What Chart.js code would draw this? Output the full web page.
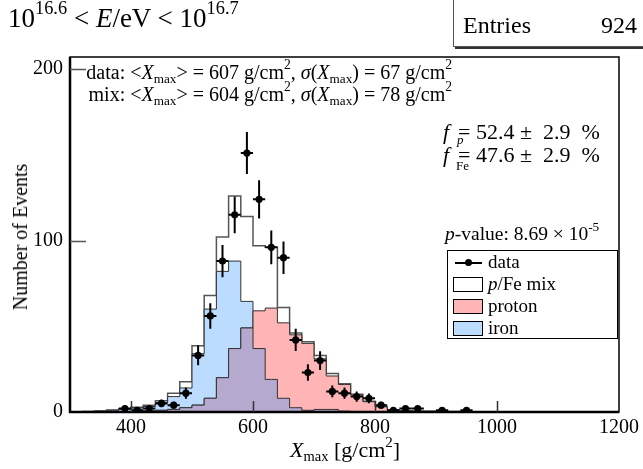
<!DOCTYPE html>
<html><head><meta charset="utf-8">
<script src="https://cdn.jsdelivr.net/npm/chart.js@4/dist/chart.umd.min.js"></script>
<style>
body{margin:0;background:#fff;}
#wrap{position:relative;width:643px;height:469px;overflow:hidden;font-family:'Liberation Serif','Times New Roman',serif;color:#000;background:#fff;}
canvas{position:absolute;left:0;top:0;}
.t{position:absolute;white-space:pre;line-height:1;}
.sup{position:relative;font-size:68%;top:-0.7em;}
.sub{position:relative;font-size:66%;top:0.3em;}
#entries{position:absolute;left:453px;top:-1px;width:200px;height:46px;border:1px solid #555;box-shadow:2px 2px 0 #333;background:#fff;}
#legend{position:absolute;left:447px;top:250px;width:169px;height:87px;border:1px solid #000;background:#fff;}
.sw{position:absolute;left:5px;width:28px;height:13px;border:1px solid #000;}
.lt{position:absolute;left:40px;font-size:19px;line-height:1;white-space:nowrap;}
</style></head><body>
<div id="wrap">
<canvas id="c" width="643" height="469"></canvas>

<div class="t" style="left:8px;top:5px;font-size:27px;">10<span class="sup">16.6</span> &lt; <i>E</i>/eV &lt; 10<span class="sup">16.7</span></div>

<div id="entries">
  <div class="t" style="left:9px;top:13px;font-size:24px;">Entries</div>
  <div class="t" style="left:147px;top:13px;font-size:24px;">924</div>
</div>

<div class="t" style="right:191px;top:62px;font-size:20px;">data: &lt;<i>X</i><span class="sub">max</span>&gt; = 607 g/cm<span class="sup">2</span>, <i>σ</i>(<i>X</i><span class="sub">max</span>) = 67 g/cm<span class="sup">2</span></div>
<div class="t" style="right:191px;top:84px;font-size:20px;">mix: &lt;<i>X</i><span class="sub">max</span>&gt; = 604 g/cm<span class="sup">2</span>, <i>σ</i>(<i>X</i><span class="sub">max</span>) = 78 g/cm<span class="sup">2</span></div>

<div class="t" style="left:443px;top:121px;font-size:22px;"><i>f</i></div>
<div class="t" style="left:457px;top:133px;font-size:13px;"><i>p</i></div>
<div class="t" style="left:458px;top:121px;font-size:22px;">= 52.4 ±  2.9  %</div>
<div class="t" style="left:443px;top:144px;font-size:22px;"><i>f</i></div>
<div class="t" style="left:456px;top:159px;font-size:13px;">Fe</div>
<div class="t" style="left:458px;top:144px;font-size:22px;">= 47.6 ±  2.9  %</div>

<div class="t" style="left:445px;top:224px;font-size:19.5px;"><i>p</i>-value: 8.69 × 10<span class="sup">-5</span></div>

<div id="legend">
  <div style="position:absolute;left:7px;top:11px;width:27px;height:2px;background:#000;"></div>
  <div style="position:absolute;left:17px;top:8px;width:7px;height:7px;border-radius:50%;background:#000;"></div>
  <div class="lt" style="top:1px;">data</div>
  <div class="sw" style="top:26px;background:#fff;"></div>
  <div class="lt" style="top:23px;"><i>p</i>/Fe mix</div>
  <div class="sw" style="top:48px;background:#ffb5b5;"></div>
  <div class="lt" style="top:45px;">proton</div>
  <div class="sw" style="top:70px;background:#bcdcff;"></div>
  <div class="lt" style="top:67px;">iron</div>
</div>

<div class="t" style="left:290px;top:439px;font-size:22px;"><i>X</i><span class="sub">max</span> [g/cm<span class="sup">2</span>]</div>
<div class="t" style="left:20px;top:237px;font-size:20px;transform:translate(-50%,-50%) rotate(-90deg);">Number of Events</div>
</div>

<script>
// ---- data ----
const binCenters = [330,350,370,390,410,430,450,470,490,510,530,550,570,590,610,630,650,670,690,710,730,750,770,790,810,830,850,870,890,910,930,950,970,990,1010,1030];
const dataCounts = [0,0,0,2,1,2,5,4,11,33,56,88,115,151,124,96,90,42,23,30,12,11,9,8,4,1,2,2,0,1,0,1,0,0,0,0];
const mixValues  = [0.3,0.6,1.2,1.9,2.7,3.9,6.6,10.9,17.7,38.6,68,102,126,114,97,96,61,46,41,33,22.5,16.5,10.3,6.2,3.1,1.2,0.7,0.5,0.4,0.3,0.3,0.2,0.2,0.2,0.1,0.1];
const protonValues = [0,0.1,0.2,0.3,0.4,0.7,1,1.5,2.5,4,8,20,37,49,59,60.6,52,45,40,31,21,16,10,6,3,1.2,0.7,0.5,0.4,0.3,0.3,0.2,0.2,0.2,0.1,0.1];
const ironValues   = [0.3,0.5,1.0,1.6,2.3,3.2,5.5,9,14,34,60,82,88,64.5,37,19,8,2.5,1,1.5,1.5,0.5,0.3,0.2,0.1,0,0,0,0,0,0,0,0,0,0,0];
const xTickLabels = [400,600,800,1000,1200];
const yTickLabels = [0,100,200];
const xInnerTicks = [400,600,800,1000];
const yInnerTicks = [100,200];
const binWidth = 20;

const COL_PROTON = '#ffb5b5';
const COL_IRON = '#bcdcff';
const COL_OVERLAP = '#b6a9cf';

function steps(vals){
  const pts=[{x:binCenters[0]-binWidth,y:0}];
  vals.forEach((v,i)=>pts.push({x:binCenters[i],y:v}));
  pts.push({x:binCenters[binCenters.length-1]+binWidth,y:0});
  return pts;
}
const overlapValues = protonValues.map((p,i)=>Math.min(p, ironValues[i]));
const dataPoints = [];
dataCounts.forEach((n,i)=>{ if(n>0) dataPoints.push({x:binCenters[i], y:n}); });

const errorBars = {
  id:'errorBars',
  afterDatasetsDraw(chart){
    const {ctx, scales:{x, y}} = chart;
    ctx.save();
    ctx.strokeStyle='#000'; ctx.lineWidth=2;
    dataPoints.forEach(p=>{
      const e=Math.sqrt(p.y);
      const px=x.getPixelForValue(p.x), py=y.getPixelForValue(p.y);
      ctx.beginPath();
      ctx.moveTo(px, y.getPixelForValue(p.y+e)); ctx.lineTo(px, y.getPixelForValue(Math.max(0,p.y-e)));
      ctx.moveTo(x.getPixelForValue(p.x-binWidth/2), py); ctx.lineTo(x.getPixelForValue(p.x+binWidth/2), py);
      ctx.stroke();
    });
    ctx.restore();
  }
};
const frame = {
  id:'frame',
  afterDraw(chart){
    const {ctx, chartArea:a, scales:{x, y}} = chart;
    ctx.save();
    ctx.strokeStyle='#000';
    ctx.lineWidth=1.5;
    ctx.strokeRect(a.left, a.top, a.right-a.left, a.bottom-a.top);
    ctx.lineWidth=2.5;
    ctx.beginPath();
    ctx.moveTo(a.left, a.top); ctx.lineTo(a.left, a.bottom); ctx.lineTo(a.right, a.bottom);
    ctx.stroke();
    ctx.lineWidth=1.5; ctx.strokeStyle='#333';
    ctx.beginPath();
    xInnerTicks.forEach(v=>{const px=Math.round(x.getPixelForValue(v))+0.5; ctx.moveTo(px,a.bottom); ctx.lineTo(px,a.bottom-11);});
    ctx.stroke();
    ctx.strokeStyle='#555';
    ctx.beginPath();
    yInnerTicks.forEach(v=>{const py=Math.round(y.getPixelForValue(v))+0.5; ctx.moveTo(a.left,py); ctx.lineTo(a.left+16,py);});
    ctx.stroke();
    ctx.restore();
  }
};

const tickFont = {family:"'Liberation Serif', serif", size:20};
new Chart(document.getElementById('c'), {
  type:'line',
  data:{datasets:[
    {label:'data', type:'scatter', data:dataPoints, pointRadius:3.6, pointBackgroundColor:'#000', pointBorderColor:'#000', pointBorderWidth:0, showLine:false, order:0},
    {label:'overlap', data:steps(overlapValues), stepped:'middle', fill:'origin', backgroundColor:COL_OVERLAP, borderColor:'#333', borderWidth:1, pointRadius:0, order:1},
    {label:'proton', data:steps(protonValues), stepped:'middle', fill:'origin', backgroundColor:COL_PROTON, borderColor:'#333', borderWidth:1, pointRadius:0, order:2},
    {label:'iron', data:steps(ironValues), stepped:'middle', fill:'origin', backgroundColor:COL_IRON, borderColor:'#333', borderWidth:1, pointRadius:0, order:3},
    {label:'p/Fe mix', data:steps(mixValues), stepped:'middle', fill:'origin', backgroundColor:'#fff', borderColor:'#555', borderWidth:1.5, pointRadius:0, order:4}
  ]},
  options:{
    responsive:false, animation:false, devicePixelRatio:1, events:[],
    layout:{padding:{top:57,right:19,left:0,bottom:0}},
    plugins:{legend:{display:false}, tooltip:{enabled:false}},
    scales:{
      x:{type:'linear', min:300, max:1200,
         grid:{display:false, drawTicks:false}, border:{display:false},
         afterBuildTicks(s){ s.ticks = xTickLabels.map(v=>({value:v})); },
         ticks:{font:tickFont, color:'#000', padding:4, maxRotation:0, autoSkip:false, callback:(v)=>String(v)},
         afterFit(s){ s.height=57; }},
      y:{type:'linear', min:0, max:207,
         grid:{display:false, drawTicks:false}, border:{display:false},
         afterBuildTicks(s){ s.ticks = yTickLabels.map(v=>({value:v})); },
         ticks:{font:tickFont, color:'#000', padding:7, autoSkip:false, callback:(v)=>String(v)},
         afterFit(s){ s.width=70; }}
    }
  },
  plugins:[errorBars, frame]
});
</script>
</body></html>
